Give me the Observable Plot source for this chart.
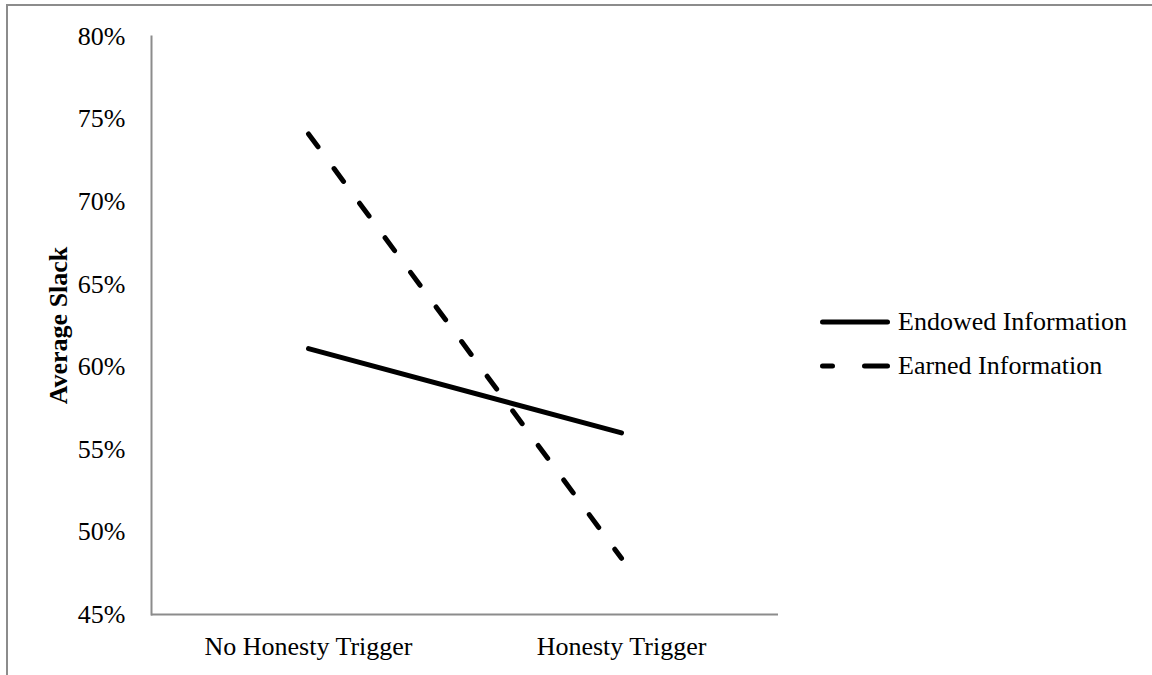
<!DOCTYPE html>
<html>
<head>
<meta charset="utf-8">
<script src="https://cdn.jsdelivr.net/npm/d3@7"></script>
<script src="https://cdn.jsdelivr.net/npm/@observablehq/plot@0.6"></script>
<style>
  html, body { margin: 0; padding: 0; background: #fff; overflow: hidden; }
  #wrap { position: relative; width: 1152px; height: 675px; font-family: "Liberation Serif", "Times New Roman", serif; }
  #border { position: absolute; left: 6px; top: 4px; width: 1300px; height: 900px; border: 2px solid #8c8c8c; box-sizing: border-box; pointer-events: none; }
  #legend { position: absolute; left: 818px; top: 300px; font-size: 26px; color: #000; }
  .item { display: flex; align-items: center; height: 44px; }
  .item svg { margin-right: 6px; }
</style>
</head>
<body>
<div id="wrap">
  <div id="border"></div>
  <div id="chart"></div>
  <div id="legend"></div>
</div>
<script>
// ---- data ----
const categories = ["No Honesty Trigger", "Honesty Trigger"];
const seriesNames = ["Endowed Information", "Earned Information"];
const endowedValues = [0.611, 0.560];
const earnedValues = [0.741, 0.484];
const yTicks = [0.45, 0.50, 0.55, 0.60, 0.65, 0.70, 0.75, 0.80];
const yLabel = "Average Slack";

const rows = [
  ...categories.map((c, i) => ({series: seriesNames[0], cat: c, value: endowedValues[i]})),
  ...categories.map((c, i) => ({series: seriesNames[1], cat: c, value: earnedValues[i]}))
];

const font = "Liberation Serif";
const axisColor = "#8c8c8c";

const chart = Plot.plot({
  width: 1152,
  height: 675,
  marginLeft: 151,
  marginRight: 374,
  marginTop: 36,
  marginBottom: 61,
  style: {fontFamily: font, fontSize: "26px", color: "#000", background: "transparent"},
  x: {type: "point", domain: categories, padding: 0.5},
  y: {domain: [0.45, 0.80]},
  marks: [
    Plot.frame({anchor: "left", stroke: axisColor, strokeWidth: 2}),
    Plot.ruleY([0.45], {stroke: axisColor, strokeWidth: 2}),
    Plot.axisY({ticks: yTicks, tickFormat: d3.format(".0%"), tickSize: 0, tickPadding: 26, label: null, fontSize: 26}),
    Plot.axisX({tickSize: 0, tickPadding: 22, label: null, fontSize: 26}),
    Plot.text([yLabel], {frameAnchor: "left", dx: -93, rotate: -90, textAnchor: "middle", lineAnchor: "middle", fontWeight: "bold", fontSize: 26}),
    Plot.line(rows.filter(d => d.series === seriesNames[0]), {
      x: "cat", y: "value", stroke: "#000", strokeWidth: 5, strokeLinecap: "round"
    }),
    Plot.line(rows.filter(d => d.series === seriesNames[1]), {
      x: "cat", y: "value", stroke: "#000", strokeWidth: 5, strokeLinecap: "round", strokeDasharray: "16,27"
    })
  ]
});
document.getElementById("chart").appendChild(chart);

// legend
const legend = document.getElementById("legend");
const dashes = [null, "10 32 24 32"];
seriesNames.forEach((name, i) => {
  const item = document.createElement("div");
  item.className = "item";
  const ns = "http://www.w3.org/2000/svg";
  const svg = document.createElementNS(ns, "svg");
  svg.setAttribute("width", 74);
  svg.setAttribute("height", 10);
  const ln = document.createElementNS(ns, "line");
  ln.setAttribute("x1", 4.5); ln.setAttribute("x2", 69.5);
  ln.setAttribute("y1", 5); ln.setAttribute("y2", 5);
  ln.setAttribute("stroke", "#000");
  ln.setAttribute("stroke-width", 5);
  ln.setAttribute("stroke-linecap", "round");
  if (dashes[i]) ln.setAttribute("stroke-dasharray", dashes[i]);
  svg.appendChild(ln);
  const span = document.createElement("span");
  span.textContent = name;
  item.appendChild(svg);
  item.appendChild(span);
  legend.appendChild(item);
});
</script>
</body>
</html>
